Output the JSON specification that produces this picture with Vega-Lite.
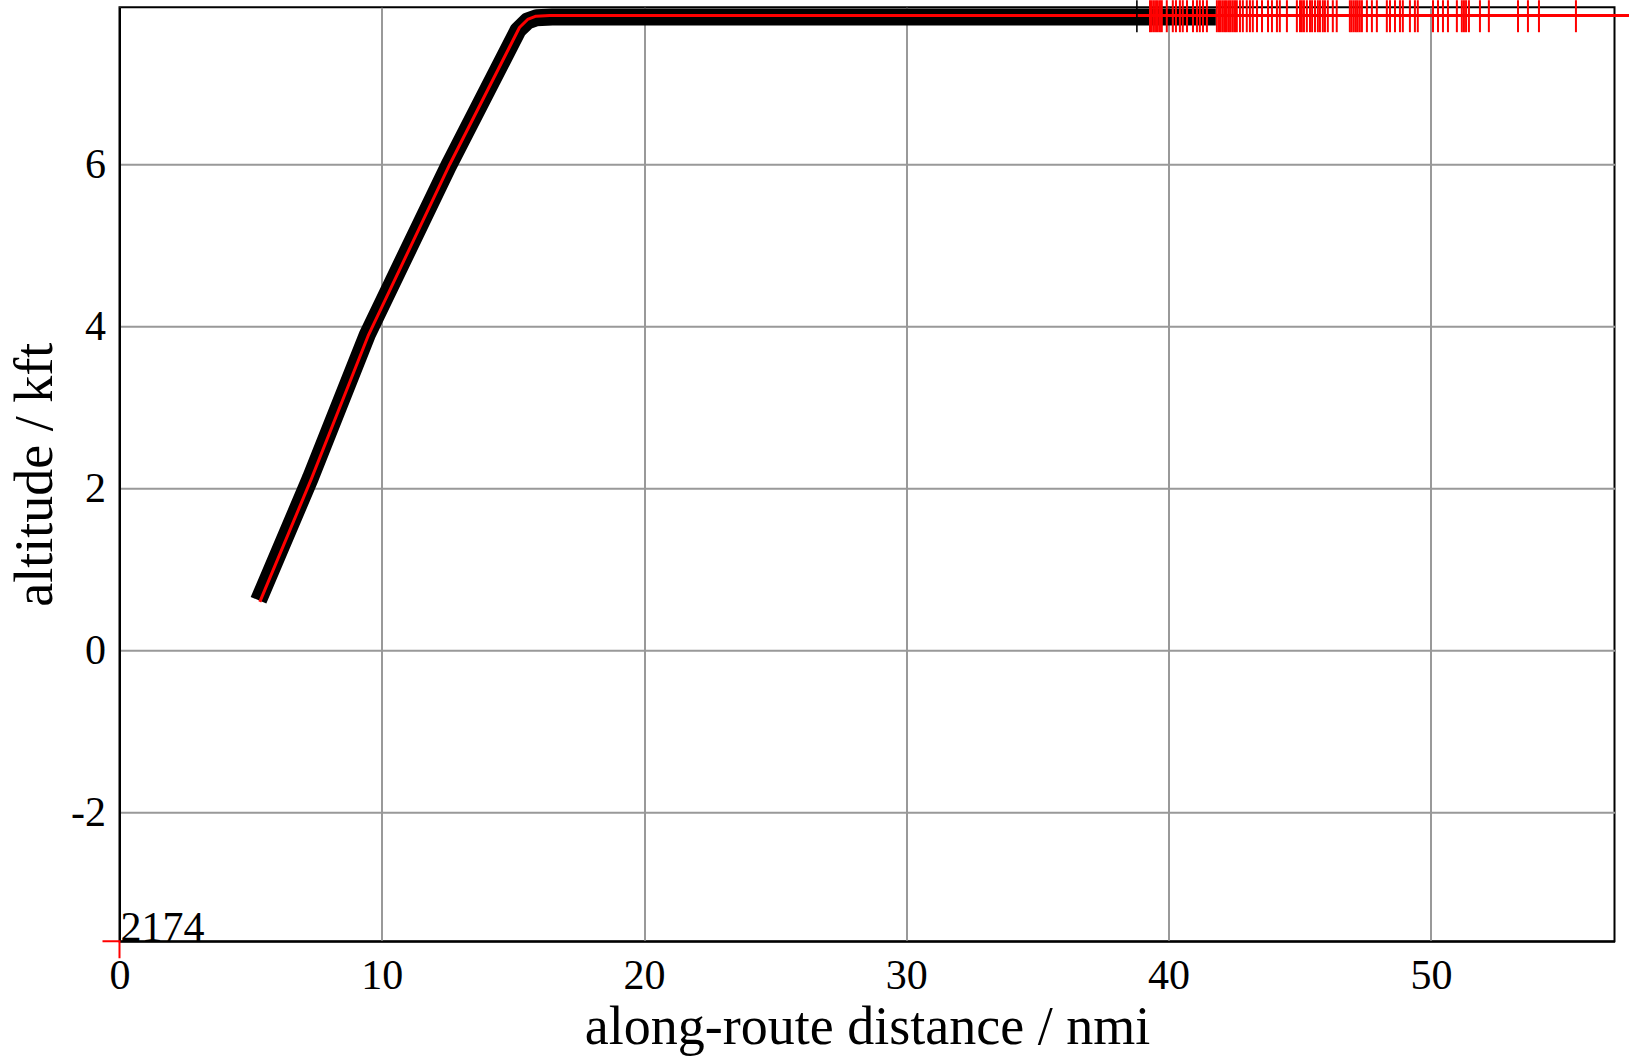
{
  "$schema": "https://vega.github.io/schema/vega-lite/v6.json",
  "autosize": {"type": "none"},
  "padding": {"left": 119.5, "top": 7.3, "right": 14.5, "bottom": 115.7},
  "width": 1495,
  "height": 934,
  "config": {
    "font": "Liberation Serif",
    "view": {"stroke": "black", "strokeWidth": 2},
    "axis": {
      "labelFont": "Liberation Serif",
      "titleFont": "Liberation Serif",
      "labelFontSize": 42,
      "titleFontSize": 54,
      "labelColor": "black",
      "titleColor": "black",
      "titleFontWeight": "normal",
      "ticks": false,
      "domainColor": "black",
      "domainWidth": 2,
      "gridColor": "#999999",
      "gridWidth": 2,
      "gridOpacity": 1,
      "labelPadding": 14,
      "labelFlush": false,
      "zindex": 1
    }
  },
  "datasets": {
    "red": [
      {"d": 5.35, "alt": 0.6},
      {"d": 7.33, "alt": 2.13},
      {"d": 9.5, "alt": 3.9},
      {"d": 12.59, "alt": 6.0},
      {"d": 15.25, "alt": 7.69},
      {"d": 15.56, "alt": 7.79},
      {"d": 15.88, "alt": 7.83},
      {"d": 16.4, "alt": 7.84},
      {"d": 58.5, "alt": 7.84}
    ],
    "black": [
      {"d": 5.3, "alt": 0.62},
      {"d": 7.28, "alt": 2.13},
      {"d": 9.45, "alt": 3.9},
      {"d": 12.54, "alt": 5.98},
      {"d": 15.2, "alt": 7.66},
      {"d": 15.55, "alt": 7.77},
      {"d": 15.9, "alt": 7.81},
      {"d": 16.5, "alt": 7.82},
      {"d": 41.8, "alt": 7.82}
    ],
    "rug": [
      {"d": 39.29}, {"d": 39.36}, {"d": 39.44}, {"d": 39.52}, {"d": 39.59}, {"d": 39.67}, {"d": 39.74}, {"d": 39.93},
      {"d": 40.16}, {"d": 40.28}, {"d": 40.43}, {"d": 40.54}, {"d": 40.7}, {"d": 40.93}, {"d": 41.08}, {"d": 41.19},
      {"d": 41.31}, {"d": 41.46}, {"d": 41.84}, {"d": 41.92}, {"d": 41.99}, {"d": 42.07}, {"d": 42.15}, {"d": 42.22},
      {"d": 42.3}, {"d": 42.37}, {"d": 42.45}, {"d": 42.53}, {"d": 42.6}, {"d": 42.72}, {"d": 42.83}, {"d": 42.98},
      {"d": 43.1}, {"d": 43.21}, {"d": 43.37}, {"d": 43.56}, {"d": 43.79}, {"d": 43.94}, {"d": 44.13}, {"d": 44.24},
      {"d": 44.51}, {"d": 44.89}, {"d": 45.01}, {"d": 45.08}, {"d": 45.16}, {"d": 45.27}, {"d": 45.39}, {"d": 45.47},
      {"d": 45.58}, {"d": 45.69}, {"d": 45.77}, {"d": 45.88}, {"d": 45.96}, {"d": 46.07}, {"d": 46.26}, {"d": 46.41},
      {"d": 46.91}, {"d": 46.98}, {"d": 47.06}, {"d": 47.14}, {"d": 47.21}, {"d": 47.29}, {"d": 47.37}, {"d": 47.56},
      {"d": 47.75}, {"d": 47.94}, {"d": 48.32}, {"d": 48.44}, {"d": 48.63}, {"d": 48.82}, {"d": 48.93}, {"d": 49.2},
      {"d": 49.39}, {"d": 49.5}, {"d": 50.08}, {"d": 50.27}, {"d": 50.46}, {"d": 50.65}, {"d": 50.99}, {"d": 51.18},
      {"d": 51.26}, {"d": 51.34}, {"d": 51.45}, {"d": 51.87}, {"d": 52.21}, {"d": 53.32}, {"d": 53.7}, {"d": 54.12},
      {"d": 55.53}
    ]
  },
  "layer": [
    {
      "data": {"name": "black"},
      "mark": {"type": "line", "color": "black", "strokeWidth": 17, "strokeJoin": "round", "strokeCap": "butt", "clip": false},
      "encoding": {
        "x": {
          "field": "d", "type": "quantitative",
          "scale": {"domain": [0, 57], "nice": false, "zero": false},
          "axis": {"title": "along-route distance / nmi", "values": [0, 10, 20, 30, 40, 50], "titlePadding": 4}
        },
        "y": {
          "field": "alt", "type": "quantitative",
          "scale": {"domain": [-3.59, 7.94], "nice": false, "zero": false},
          "axis": {"title": "altitude / kft", "values": [-2, 0, 2, 4, 6], "labelExpr": "'' + datum.value", "titlePadding": 8}
        }
      }
    },
    {
      "data": {"name": "red"},
      "mark": {"type": "line", "color": "red", "strokeWidth": 3, "strokeJoin": "round", "clip": false},
      "encoding": {
        "x": {"field": "d", "type": "quantitative"},
        "y": {"field": "alt", "type": "quantitative"}
      }
    },
    {
      "data": {"name": "rug"},
      "mark": {"type": "tick", "orient": "vertical", "color": "red", "size": 32, "thickness": 2, "opacity": 1},
      "encoding": {
        "x": {"field": "d", "type": "quantitative"},
        "y": {"datum": 7.83, "type": "quantitative"}
      }
    },
    {
      "data": {"values": [{"d": 38.79}]},
      "mark": {"type": "tick", "orient": "vertical", "color": "black", "size": 32, "thickness": 1.6, "opacity": 1},
      "encoding": {
        "x": {"field": "d", "type": "quantitative"},
        "y": {"datum": 7.83, "type": "quantitative"}
      }
    },
    {
      "data": {"values": [{"d": 0, "alt": -3.59, "label": "2174"}]},
      "mark": {"type": "point", "shape": "M-1,0H0V1", "size": 1156, "stroke": "red", "strokeWidth": 2, "filled": false, "opacity": 1},
      "encoding": {
        "x": {"field": "d", "type": "quantitative"},
        "y": {"field": "alt", "type": "quantitative"}
      }
    },
    {
      "data": {"values": [{"d": 0, "alt": -3.59, "label": "2174"}]},
      "mark": {"type": "text", "align": "left", "baseline": "alphabetic", "dx": 1, "fontSize": 42, "font": "Liberation Serif", "color": "black"},
      "encoding": {
        "x": {"field": "d", "type": "quantitative"},
        "y": {"field": "alt", "type": "quantitative"},
        "text": {"field": "label"}
      }
    }
  ]
}
